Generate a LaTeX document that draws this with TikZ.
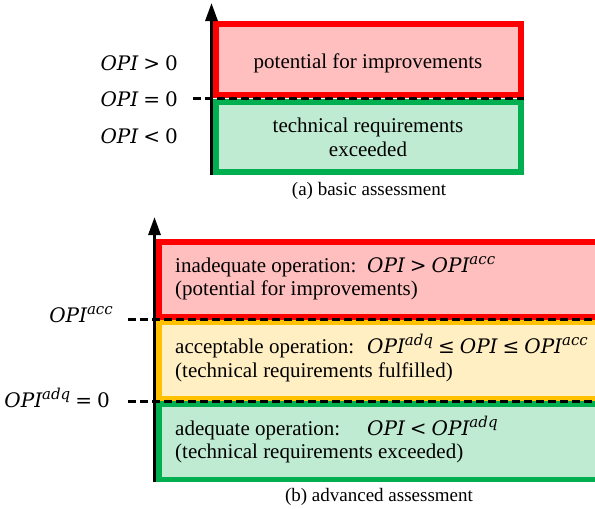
\documentclass[tikz,border=0pt]{standalone}
\usepackage{fontspec}
\setmainfont{Liberation Serif}
\newfontfamily\mfont{DejaVu Serif}
\usetikzlibrary{arrows.meta}
\definecolor{cred}{HTML}{FF0000}
\definecolor{credf}{HTML}{FFBFBF}
\definecolor{cyel}{HTML}{FFC000}
\definecolor{cyelf}{HTML}{FFEFC2}
\definecolor{cgrn}{HTML}{00B050}
\definecolor{cgrnf}{HTML}{BFEBD3}
\newcommand\OPI{{\fontsize{20}{24}\selectfont\mfont\itshape OPI}}
\newcommand\SUP[1]{\raisebox{7.5pt}{\fontsize{15}{15}\selectfont\mfont\itshape #1}}
\newcommand\REL[1]{\hspace{5pt}{\fontsize{20}{24}\selectfont\mfont #1}\hspace{5pt}}
\newcommand\ZERO{{\fontsize{20}{24}\selectfont\mfont 0}}
\tikzset{
  txt/.style={font=\fontsize{21}{24}\selectfont, inner sep=0pt},
  captxt/.style={font=\fontsize{19}{22}\selectfont, inner sep=0pt},
  lbl/.style={inner sep=0pt, anchor=base east},
  bandtop/.style={line width=6pt},
  bandbot/.style={line width=5.5pt},
  level/.style={line width=3pt, dash pattern=on 7.5pt off 4.5pt},
  axis/.style={line width=3pt, -{Triangle[length=18pt,width=12pt]}}
}
\begin{document}
\begin{tikzpicture}[x=1pt,y=-1pt]
\useasboundingbox (0,0) rectangle (595,509);
\clip (0,0) rectangle (595,509);
% ---------- (a) basic assessment ----------
\filldraw[bandtop, draw=cred, fill=credf] (216,24) rectangle (521,95);
\filldraw[bandtop, draw=cgrn, fill=cgrnf] (216,102) rectangle (521,172);
\draw[level] (193,98.5) -- (524,98.5);
\coordinate (a0) at (211.5,175);
\coordinate (a1) at (211.5,3);
\draw[axis] (a0) -- (a1);
\node[txt, anchor=base] (ta1) at (368,68) {potential for improvements};
\node[txt, anchor=base] (ta2) at (368,132) {technical requirements};
\node[txt, anchor=base] (ta3) at (368,156) {exceeded};
\node[lbl] (la1) at (178,70) {\OPI\REL{>}\ZERO};
\node[lbl] (la2) at (178,106) {\OPI\REL{=}\ZERO};
\node[lbl] (la3) at (178,143) {\OPI\REL{<}\ZERO};
\node[captxt, anchor=base] (capa) at (369,195) {(a) basic assessment};
% ---------- (b) advanced assessment ----------
\filldraw[bandbot, draw=cred, fill=credf] (158.75,241.75) rectangle (610,316.75);
\filldraw[bandbot, draw=cyel, fill=cyelf] (158.75,322.25) rectangle (610,398.25);
\filldraw[bandbot, draw=cgrn, fill=cgrnf] (158.75,403.75) rectangle (610,479.25);
\draw[level] (128,319.8) -- (600,319.8);
\draw[level] (128,401) -- (600,401);
\coordinate (b0) at (154.5,482);
\coordinate (b1) at (154.5,217);
\draw[axis] (b0) -- (b1);
\node[lbl] (lb1) at (113,322) {\OPI\SUP{acc}};
\node[lbl] (lb2) at (110,407) {\OPI\SUP{adq}\REL{=}\ZERO};
\node[txt, anchor=base west] (tb1) at (175,272) {inadequate operation:};
\node[txt, anchor=base west] (tb2) at (175,295) {(potential for improvements)};
\node[txt, anchor=base west] (tb3) at (175,353) {acceptable operation:};
\node[txt, anchor=base west] (tb4) at (175,377) {(technical requirements fulfilled)};
\node[txt, anchor=base west] (tb5) at (175,435) {adequate operation:};
\node[txt, anchor=base west] (tb6) at (175,458) {(technical requirements exceeded)};
\node[lbl, anchor=base west] (mb1) at (367,272) {\OPI\REL{>}\OPI\SUP{acc}};
\node[lbl, anchor=base west] (mb2) at (367,353) {\OPI\SUP{adq}\REL{≤}\OPI\REL{≤}\OPI\SUP{acc}};
\node[lbl, anchor=base west] (mb3) at (367,435) {\OPI\REL{<}\OPI\SUP{adq}};
\node[captxt, anchor=base] (capb) at (379,501) {(b) advanced assessment};
\end{tikzpicture}
\end{document}
